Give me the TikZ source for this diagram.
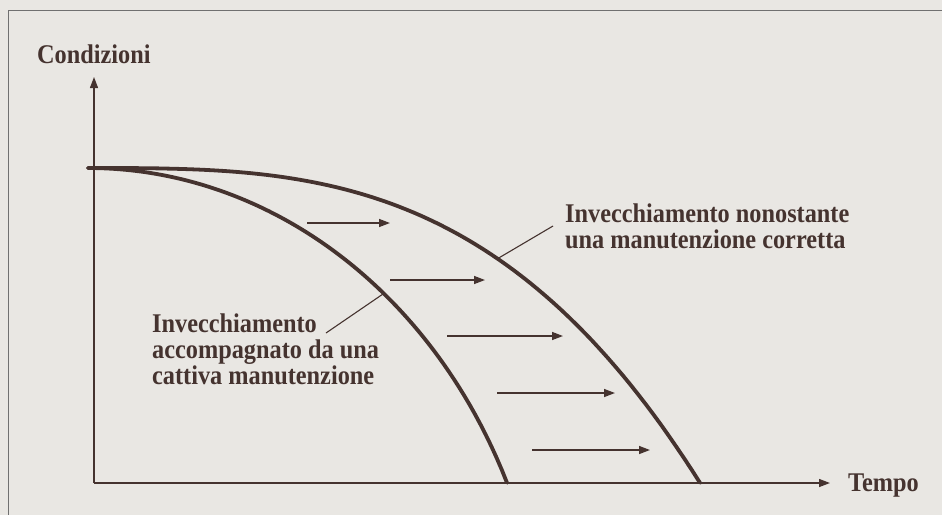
\documentclass[tikz,border=0pt]{standalone}
\usepackage{fontspec}
\setmainfont{Liberation Serif}
\usetikzlibrary{arrows.meta}

\definecolor{paper}{HTML}{E9E7E3}
\definecolor{ink}{HTML}{45332F}
\definecolor{rule}{HTML}{707070}

\begin{document}
\begin{tikzpicture}[x=1pt, y=-1pt,
	axis/.style={ink, line width=1.3pt, -{Triangle[length=11pt, width=8pt]}},
	curve/.style={ink, line width=3.8pt, line cap=round, line join=round},
	shift arrow/.style={ink, line width=1.4pt, -{Triangle[length=11pt, width=8pt]}},
	leader/.style={ink, line width=1.1pt},
	label/.style={text=ink, font=\fontsize{27}{26}\selectfont\bfseries, inner sep=0pt, xscale=0.9, align=left}]

\fill[paper] (0, 0) rectangle (942, 515);
\useasboundingbox (0, 0) rectangle (942, 515);
\draw[rule, line width=0.9pt] (942, 10) -- (8, 10) -- (8, 515);

\coordinate (origin) at (94, 483);
\coordinate (ytop) at (94, 77);
\coordinate (xend) at (830, 483);
\draw[axis] (origin) -- (ytop);
\draw[axis] (origin) -- (xend);

\node[label, anchor=base west] (condizioni) at (37, 63) {Condizioni};
\node[label, anchor=base west] (tempo) at (848, 491) {Tempo};

\draw[curve] (88, 168) -- plot[domain=89:700, samples=80] (\x, {168 + 315*pow((\x - 88)/612, 3.1)});
\draw[curve] (88, 168) -- plot[domain=89:507, samples=80] (\x, {168 + 536*(1 - sqrt(1 - ((\x - 88)/460)^2))});

\foreach \xa/\xb/\y [count=\i] in {307/390/223, 390/485/280, 447/563/336, 497/615/393, 532/650/450} {
	\coordinate (s\i) at (\xa, \y);
	\coordinate (e\i) at (\xb, \y);
	\draw[shift arrow] (s\i) -- (e\i);
}

\node[label, anchor=base west] (buona) at (565, 248) {Invecchiamento nonostante\\una manutenzione corretta};
\node[label, anchor=base west] (cattiva) at (152, 384) {Invecchiamento\\accompagnato da una\\cattiva manutenzione};

\coordinate (buona-tip) at (553, 226);
\coordinate (buona-hit) at (497, 259);
\coordinate (cattiva-tip) at (326, 333);
\coordinate (cattiva-hit) at (383, 294);
\draw[leader] (buona-tip) -- (buona-hit);
\draw[leader] (cattiva-tip) -- (cattiva-hit);

\end{tikzpicture}
\end{document}
